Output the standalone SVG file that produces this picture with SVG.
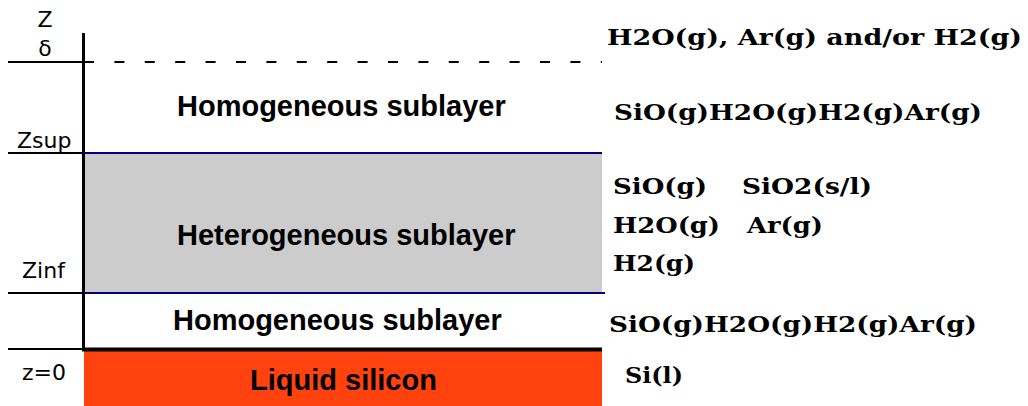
<svg xmlns="http://www.w3.org/2000/svg" width="1028" height="406" viewBox="0 0 1028 406">
<style>
.ax{font-family:"DejaVu Sans",sans-serif;font-size:22px;fill:#000}
.lay{font-family:"Liberation Sans",Arial,sans-serif;font-weight:bold;font-size:29px;fill:#000}
.sp{font-family:"DejaVu Serif","Liberation Serif",serif;font-weight:bold;font-size:23px;fill:#000}
.blk{stroke:#000;stroke-width:2;fill:none}
.nav{stroke:#000080;stroke-width:2;fill:none}
</style>
<rect width="1028" height="406" fill="#fff"/>
<g id="heterogeneous-layer">
<rect x="84" y="153" width="518" height="140" fill="#cccccc"/>
<text class="lay" x="177" y="245">Heterogeneous sublayer</text>
</g>
<g id="liquid-silicon">
<rect x="84" y="350" width="518" height="56" fill="#ff420e"/>
<text class="lay" x="250" y="390">Liquid silicon</text>
</g>
<g id="homogeneous-top">
<text class="lay" x="177" y="116">Homogeneous sublayer</text>
</g>
<g id="homogeneous-bottom">
<text class="lay" x="173" y="330">Homogeneous sublayer</text>
</g>
<g id="connectors">
<line class="blk" x1="8" y1="62" x2="84" y2="62"/>
<line x1="84" y1="62" x2="602" y2="62" stroke="#000" stroke-width="2" stroke-dasharray="10 20.4"/>
<line class="blk" x1="8" y1="153" x2="84" y2="153"/>
<line class="nav" x1="84" y1="153" x2="602" y2="153"/>
<line class="blk" x1="8" y1="293" x2="84" y2="293"/>
<line class="nav" x1="84" y1="293" x2="605" y2="293"/>
<line class="blk" x1="8" y1="349" x2="84" y2="349"/>
<line x1="82" y1="349.5" x2="602" y2="349.5" stroke="#000" stroke-width="4"/>
<line x1="83.5" y1="33" x2="83.5" y2="350" stroke="#000" stroke-width="3"/>
</g>
<g id="axis-labels">
<text class="ax" x="45" y="27" text-anchor="middle" font-size="21">Z</text>
<text class="ax" x="45" y="56" text-anchor="middle">δ</text>
<text class="ax" x="17" y="148">Zsup</text>
<text class="ax" x="22" y="278">Zinf</text>
<text class="ax" x="22" y="380">z=0</text>
</g>
<g id="species">
<text class="sp" x="607" y="45" textLength="415" lengthAdjust="spacingAndGlyphs">H2O(g), Ar(g) and/or H2(g)</text>
<text class="sp" x="614" y="120" textLength="368" lengthAdjust="spacingAndGlyphs">SiO(g)H2O(g)H2(g)Ar(g)</text>
<text class="sp" x="613" y="194" textLength="94" lengthAdjust="spacingAndGlyphs">SiO(g)</text>
<text class="sp" x="742" y="194" textLength="130" lengthAdjust="spacingAndGlyphs">SiO2(s/l)</text>
<text class="sp" x="613" y="233" textLength="107" lengthAdjust="spacingAndGlyphs">H2O(g)</text>
<text class="sp" x="747" y="233" textLength="76" lengthAdjust="spacingAndGlyphs">Ar(g)</text>
<text class="sp" x="613" y="271" textLength="82" lengthAdjust="spacingAndGlyphs">H2(g)</text>
<text class="sp" x="609" y="332" textLength="368" lengthAdjust="spacingAndGlyphs">SiO(g)H2O(g)H2(g)Ar(g)</text>
<text class="sp" x="625" y="383" textLength="58" lengthAdjust="spacingAndGlyphs">Si(l)</text>
</g>
</svg>
